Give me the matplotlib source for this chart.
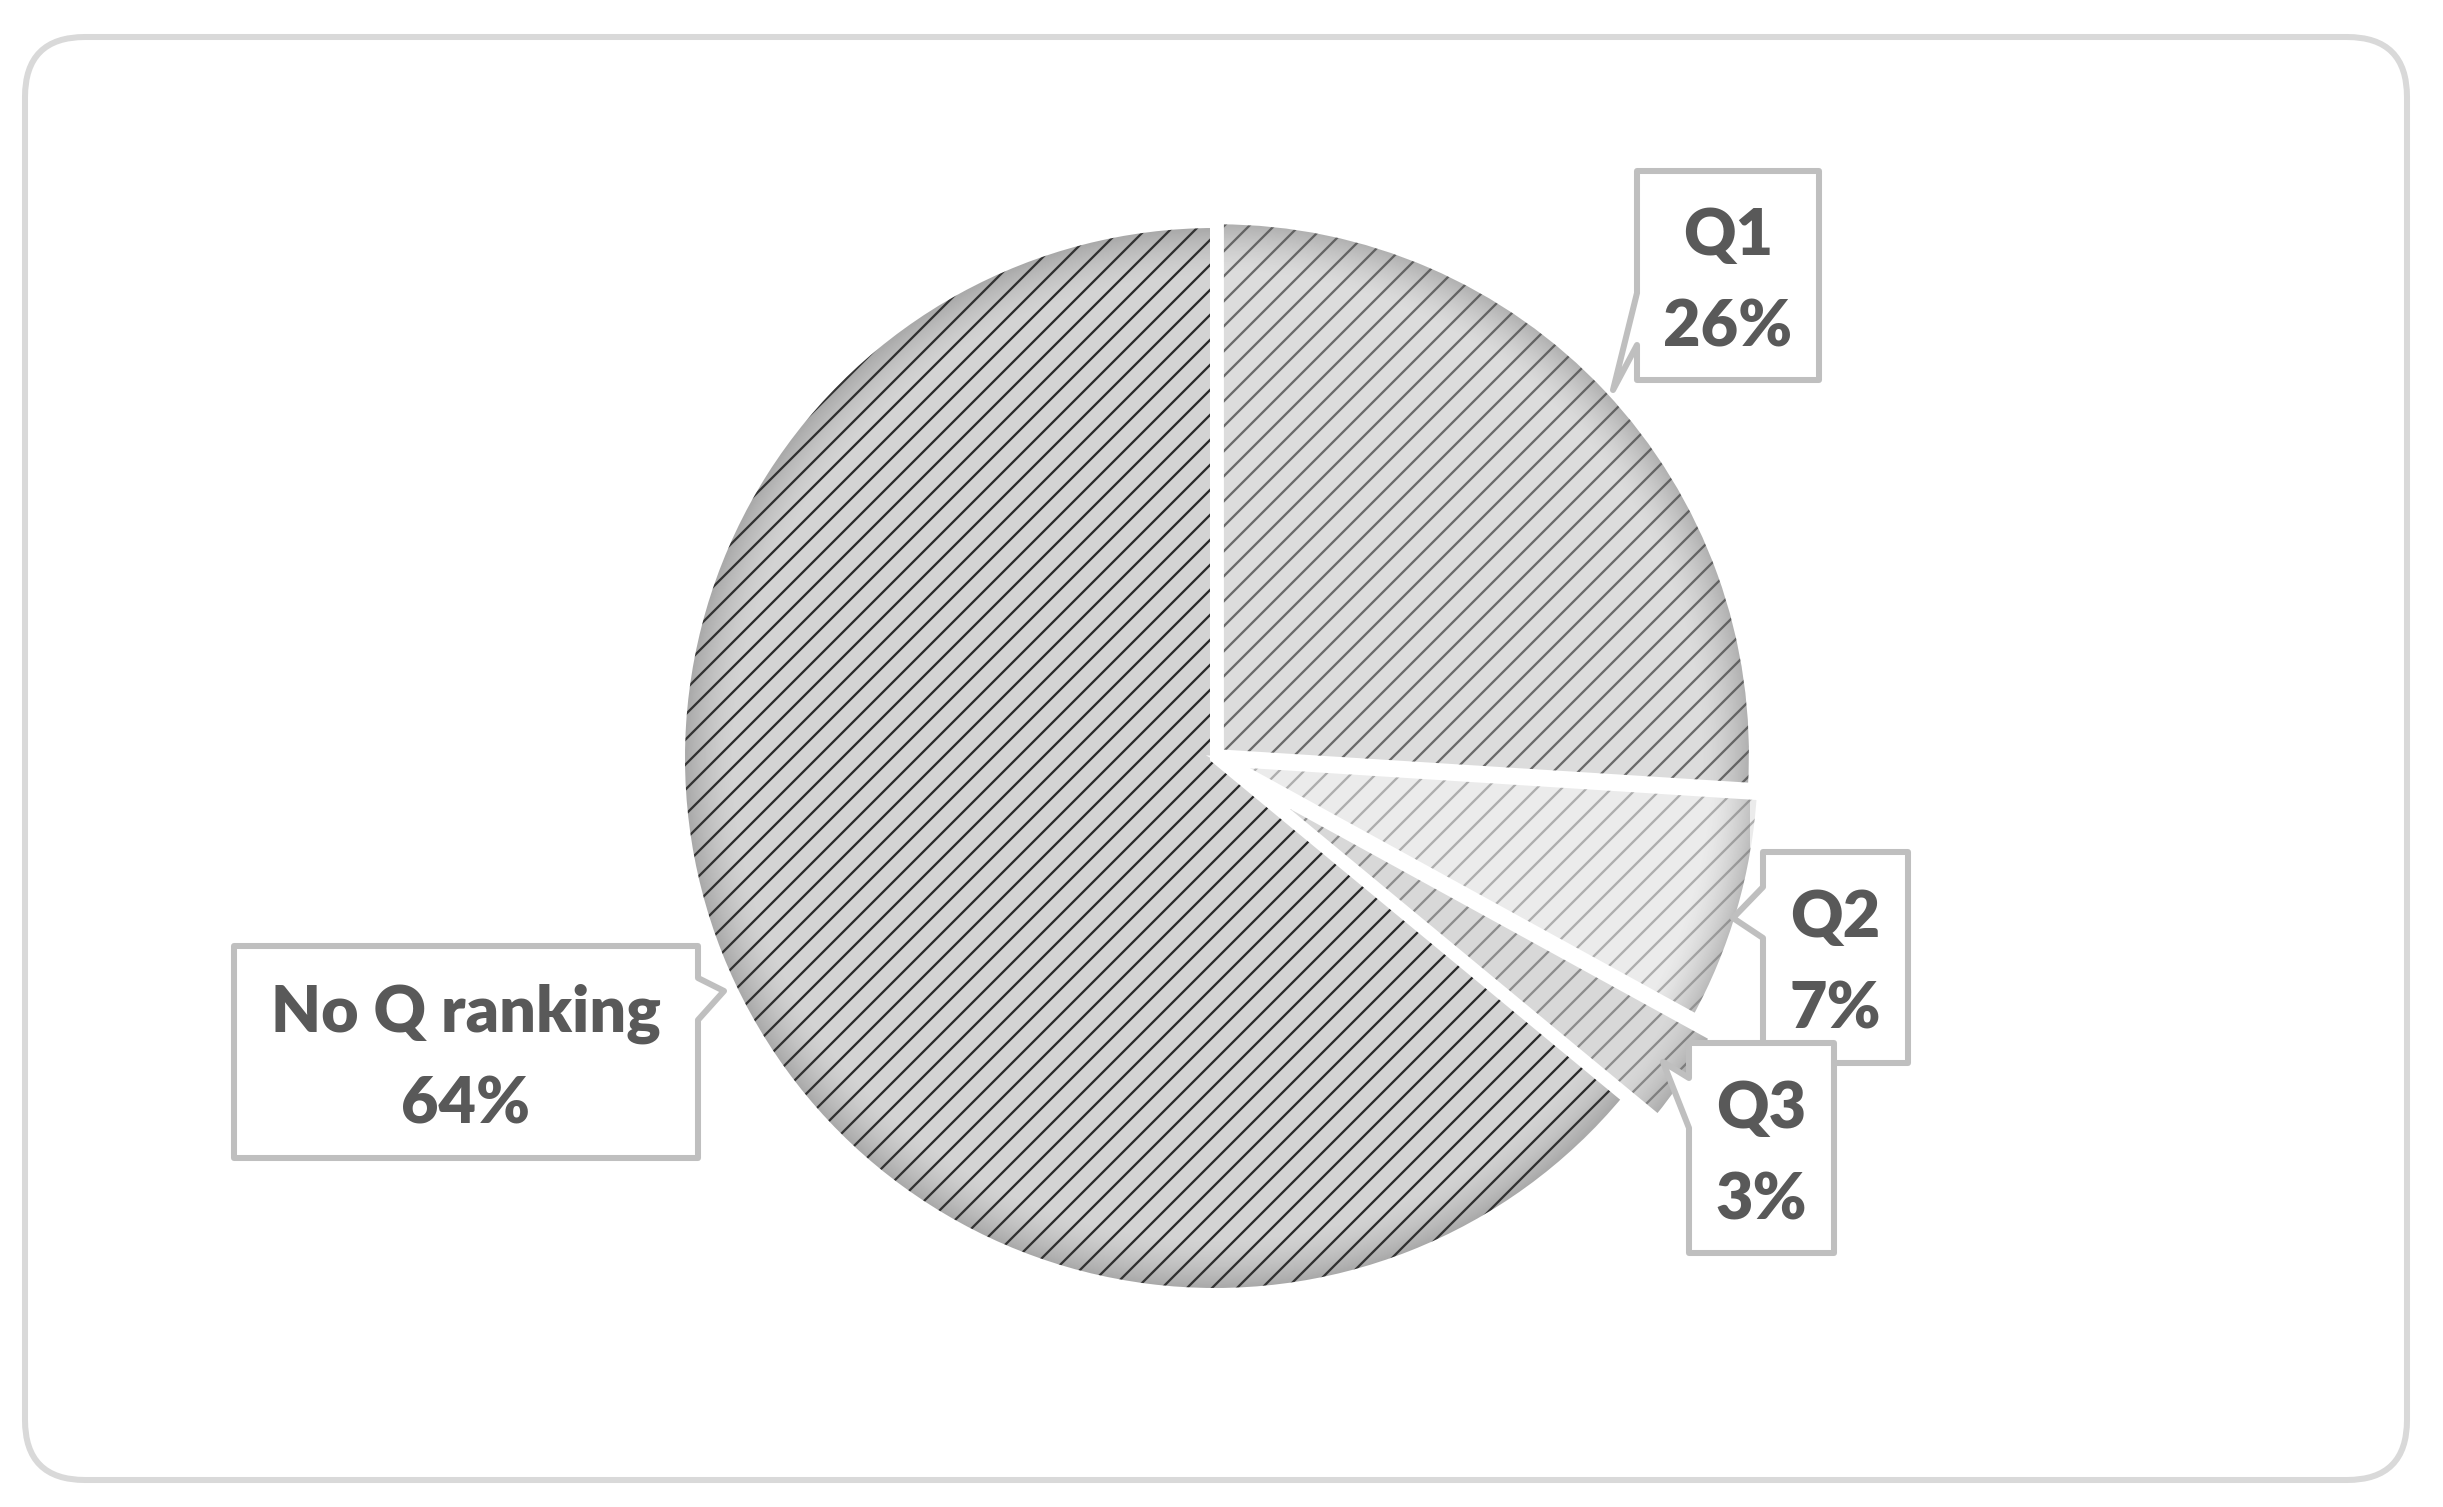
import matplotlib
matplotlib.use('Agg')
import matplotlib.pyplot as plt
import numpy as np
from matplotlib.patches import Polygon, FancyBboxPatch

plt.rcParams['hatch.linewidth'] = 1.1

# data
labels = ['Q1', 'Q2', 'Q3', 'No Q ranking']
values = [26, 7, 3, 64]
explode = [0.01, 0.025, 0.07, 0.0]
face_colors = ['#dcdcdc', '#ebebeb', '#d8d8d8', '#d3d3d3']
hatch_colors = ['#6a6a6a', '#adadad', '#8c8c8c', '#2a2a2a']

# layout in pixels (figure 2443 x 1507, y down)
W, H = 2443, 1507
DPI = 150
cx, cy, R = 1215, 758, 535
# box: x0, y0, x1, y1, pointer side, base a, base b, tip
boxes = [
    (1637, 171, 1819, 380, 'left', 293, 345, (1613, 390)),
    (1763, 852, 1908, 1063, 'left', 887, 938, (1733, 918)),
    (1689, 1043, 1834, 1253, 'left', 1078, 1128, (1663, 1062)),
    (234, 946, 698, 1158, 'right', 978, 1020, (724, 991)),
]

fig = plt.figure(figsize=(W / DPI, H / DPI), dpi=DPI, facecolor='white')

# pie axes, unit radius = R pixels
axp = fig.add_axes([(cx - R) / W, (H - cy - R) / H, 2 * R / W, 2 * R / H])
wedges, _ = axp.pie(values, startangle=90, counterclock=False, explode=explode,
                    colors=face_colors, wedgeprops=dict(linewidth=0))
for w, hc in zip(wedges, hatch_colors):
    w.set_edgecolor(hc)
    w.set_hatch('//')
    w.set_linewidth(0)

# soft dark rim on each slice
n = 400
for w in wedges:
    wx, wy = w.center
    r = w.r
    xs = np.linspace(wx - r, wx + r, n)
    X, Y = np.meshgrid(xs, np.linspace(wy - r, wy + r, n))
    d = np.hypot(X - wx, Y - wy) / r
    img = np.zeros((n, n, 4))
    img[..., :3] = 0.3
    img[..., 3] = np.clip((d - 0.9) / 0.1, 0, 1) ** 1.5 * 0.35
    im = axp.imshow(img, extent=(wx - r, wx + r, wy - r, wy + r), origin='lower',
                    zorder=2, interpolation='bilinear')
    im.set_clip_path(w)

axp.pie(values, startangle=90, counterclock=False, explode=explode,
        colors=['none'] * 4,
        wedgeprops=dict(edgecolor='white', linewidth=4.8, fill=False, zorder=3))
axp.set_xlim(-1, 1)
axp.set_ylim(-1, 1)
axp.set_aspect('auto')
axp.axis('off')

# overlay axes in pixel coordinates
ax = fig.add_axes([0, 0, 1, 1])
ax.set_xlim(0, W)
ax.set_ylim(H, 0)
ax.axis('off')
ax.patch.set_alpha(0)

ax.add_patch(FancyBboxPatch((25, 37), W - 25 - 36, H - 37 - 27,
                            boxstyle='round,pad=0,rounding_size=60',
                            fc='none', ec='#d9d9d9', lw=2.9))

total = sum(values)
for lab, v, (x0, y0, x1, y1, side, ba, bb, tip) in zip(labels, values, boxes):
    if side == 'left':
        pts = [(x0, y0), (x1, y0), (x1, y1), (x0, y1), (x0, bb), tip, (x0, ba)]
    else:
        pts = [(x0, y0), (x1, y0), (x1, ba), tip, (x1, bb), (x1, y1), (x0, y1)]
    ax.add_patch(Polygon(pts, closed=True, fc='white', ec='#bfbfbf', lw=2.9,
                         joinstyle='round'))
    mx = (x0 + x1) / 2
    my = (y0 + y1) / 2
    ax.text(mx, my - 20, lab, ha='center', va='baseline', fontsize=31,
            fontweight='heavy', color='#595959', family='Lato')
    ax.text(mx, my + 71, f'{v / total * 100:.0f}%', ha='center', va='baseline',
            fontsize=31, fontweight='heavy', color='#595959', family='Lato')

fig.savefig('out.png', dpi=DPI)
